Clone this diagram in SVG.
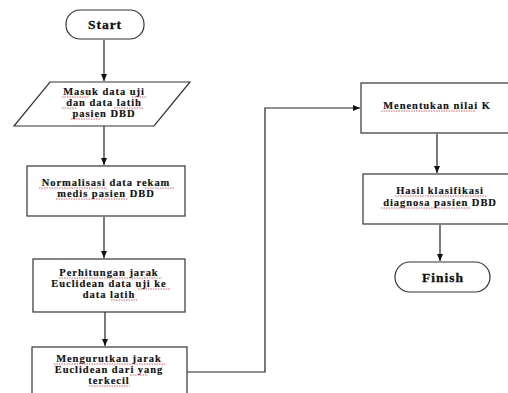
<svg xmlns="http://www.w3.org/2000/svg" width="508" height="393" viewBox="0 0 508 393">
<style>
.s{fill:#fff;stroke:#333;stroke-width:1.2}
.t{font-family:"Liberation Serif","Times New Roman",serif;font-weight:bold;font-size:10.5px;letter-spacing:0.95px;fill:#111;stroke:#111;stroke-width:0.15;text-anchor:middle}
.b{font-size:13.5px;letter-spacing:1px;stroke-width:0.3}
.u{fill:none;stroke:#d33;stroke-width:0.8;stroke-dasharray:1.5 1}
.c{fill:none;stroke:#222;stroke-width:1.2}
</style>
<defs>
<marker id="a" markerWidth="8" markerHeight="8" refX="7" refY="4" orient="auto" markerUnits="userSpaceOnUse">
<path d="M0,1 L7,4 L0,7 Z" fill="#111"/>
</marker>
</defs>
<rect width="508" height="393" fill="#fff"/>
<g id="connectors">
<line class="c" x1="104" y1="40" x2="104" y2="81" marker-end="url(#a)"/>
<line class="c" x1="104" y1="126" x2="104" y2="165" marker-end="url(#a)"/>
<line class="c" x1="104" y1="217" x2="104" y2="258" marker-end="url(#a)"/>
<line class="c" x1="105" y1="312" x2="105" y2="346" marker-end="url(#a)"/>
<polyline class="c" points="187,372 265,372 265,108 360,108" marker-end="url(#a)"/>
<line class="c" x1="437" y1="134" x2="437" y2="173" marker-end="url(#a)"/>
<line class="c" x1="440" y1="225" x2="440" y2="261" marker-end="url(#a)"/>
</g>
<g id="start">
<rect class="s" x="66" y="10" width="78" height="29" rx="14"/>
<text class="t b" x="105" y="29">Start</text>
</g>
<g id="input">
<polygon class="s" points="50,82 190,82 154,126 14,126"/>
<text class="t" x="104" y="95">Masuk data uji</text>
<text class="t" x="104" y="106">dan data latih</text>
<text class="t" x="104" y="117">pasien DBD</text>
<path class="u" d="M62,97H89M132,97H147M62,108H76M114,108H143M71,119H101"/>
</g>
<g id="normalisasi">
<rect class="s" x="27" y="166" width="158" height="50"/>
<text class="t" x="106" y="186">Normalisasi data rekam</text>
<text class="t" x="106" y="197">medis pasien DBD</text>
<path class="u" d="M39,188H107M145,188H175M56,199H128"/>
</g>
<g id="perhitungan">
<rect class="s" x="33" y="259" width="152" height="53"/>
<text class="t" x="109" y="276">Perhitungan jarak</text>
<text class="t" x="109" y="287">Euclidean data uji ke</text>
<text class="t" x="109" y="298">data latih</text>
<path class="u" d="M59,278H162M138,289H170M111,300H137"/>
</g>
<g id="mengurutkan">
<rect class="s" x="32" y="347" width="155" height="60"/>
<text class="t" x="109" y="362">Mengurutkan jarak</text>
<text class="t" x="109" y="373">Euclidean dari yang</text>
<text class="t" x="109" y="384">terkecil</text>
<path class="u" d="M54,364H165M130,375H148M89,386H130"/>
</g>
<g id="menentukan">
<rect class="s" x="361" y="83" width="160" height="50"/>
<text class="t" x="437" y="109">Menentukan nilai K</text>
<path class="u" d="M381,111H475"/>
</g>
<g id="hasil">
<rect class="s" x="363" y="174" width="160" height="50"/>
<text class="t" x="440" y="194">Hasil klasifikasi</text>
<text class="t" x="440" y="206">diagnosa pasien DBD</text>
<path class="u" d="M395,196H487M381,208H470"/>
</g>
<g id="finish">
<rect class="s" x="395" y="262" width="95" height="30" rx="15"/>
<text class="t b" x="443" y="282">Finish</text>
</g>
</svg>
